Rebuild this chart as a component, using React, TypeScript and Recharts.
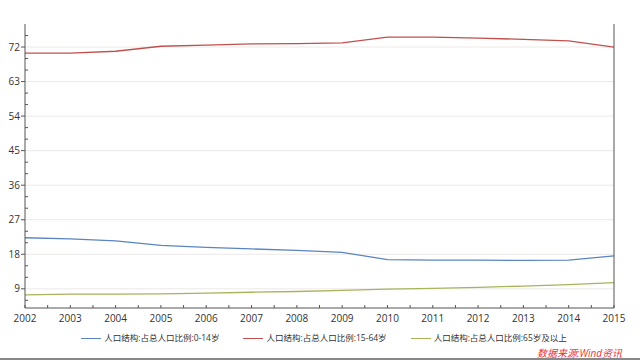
import React from "react";
import { LineChart, Line, XAxis, YAxis, ReferenceLine, Legend } from "recharts";

const YEARS = [2002, 2003, 2004, 2005, 2006, 2007, 2008, 2009, 2010, 2011, 2012, 2013, 2014, 2015];
const AGE_0_14 = [22.3, 22.0, 21.5, 20.3, 19.8, 19.4, 19.0, 18.5, 16.6, 16.5, 16.5, 16.4, 16.5, 17.6];
const AGE_15_64 = [70.4, 70.4, 70.9, 72.2, 72.5, 72.8, 72.9, 73.1, 74.6, 74.6, 74.3, 74.0, 73.6, 72.0];
const AGE_65_UP = [7.4, 7.6, 7.6, 7.7, 7.9, 8.1, 8.3, 8.6, 8.9, 9.1, 9.4, 9.7, 10.1, 10.6];

const SERIES = [
  { key: "a", name: "人口结构:占总人口比例:0-14岁", color: "#5a85c2" },
  { key: "b", name: "人口结构:占总人口比例:15-64岁", color: "#c0504d" },
  { key: "c", name: "人口结构:占总人口比例:65岁及以上", color: "#a9b35c" },
];

const Y_TICKS = [6, 9, 12, 15, 18, 21, 24, 27, 30, 33, 36, 39, 42, 45, 48, 51, 54, 57, 60, 63, 66, 69, 72, 75];
const Y_MAJOR = [9, 18, 27, 36, 45, 54, 63, 72];
const X_TICKS = [2002, 2002.5, 2003, 2003.5, 2004, 2004.5, 2005, 2005.5, 2006, 2006.5, 2007, 2007.5, 2008, 2008.5,
  2009, 2009.5, 2010, 2010.5, 2011, 2011.5, 2012, 2012.5, 2013, 2013.5, 2014, 2014.5, 2015];

const data = YEARS.map((y, i) => ({ year: y, a: AGE_0_14[i], b: AGE_15_64[i], c: AGE_65_UP[i] }));

const AXIS = "#555";
const FONT = "'Open Sans','Noto Sans CJK SC',sans-serif";

// y tick: major ticks outward with label, minor ticks inward
function YTick(props: any) {
  const { x, y, payload, side } = props;
  const v = payload.value;
  const major = Y_MAJOR.includes(v);
  const s = side === "left" ? -1 : 1;
  if (major) {
    return (
      <g>
        <line x1={x} x2={x + s * 4} y1={y} y2={y} stroke={AXIS} />
        <text x={x + s * 5} y={y} dy={3.5} textAnchor={side === "left" ? "end" : "start"}
          fontSize={10} fill="#333" fontFamily={FONT}>{v}</text>
      </g>
    );
  }
  return <line x1={x} x2={x - s * 3} y1={y} y2={y} stroke={AXIS} />;
}

function XTick(props: any) {
  const { x, y, payload } = props;
  const v = payload.value;
  const major = Number.isInteger(v);
  return (
    <g>
      <line x1={x} x2={x} y1={y} y2={y - 3} stroke={AXIS} />
      {major && (
        <text x={x} y={y + 14} textAnchor="middle" fontSize={10} fill="#333" fontFamily={FONT}>{v}</text>
      )}
    </g>
  );
}

function LegendContent() {
  return (
    <div style={{ display: "flex", justifyContent: "center", gap: 24, fontSize: 8.5, lineHeight: "12px", fontFamily: FONT, color: "#333", paddingTop: 2, marginLeft: 8 }}>
      {SERIES.map(s => (
        <div key={s.key} style={{ display: "flex", alignItems: "center" }}>
          <span style={{ display: "inline-block", width: 20, height: 1, background: s.color, marginRight: 3 }} />
          <span>{s.name}</span>
        </div>
      ))}
    </div>
  );
}

export default function App() {
  return (
    <div style={{ position: "absolute", left: 0, top: 0, width: 640, height: 360, background: "#fff" }}>
      <LineChart width={640} height={360} data={data} margin={{ top: 24, right: 0, bottom: 0, left: 0 }}>
        <XAxis dataKey="year" type="number" domain={[2002, 2015]} ticks={X_TICKS} interval={0}
          stroke={AXIS} tickLine={false} tickSize={0} tickMargin={0} height={22} tick={<XTick />} />
        <YAxis yAxisId="l" domain={[4, 78]} ticks={Y_TICKS} interval={0} width={25} stroke={AXIS}
          tickLine={false} tickSize={0} tickMargin={0} tick={<YTick side="left" />} />
        <YAxis yAxisId="r" orientation="right" domain={[4, 78]} ticks={Y_TICKS} interval={0} width={26} stroke={AXIS}
          tickLine={false} tickSize={0} tickMargin={0} tick={<YTick side="right" />} />
        {Y_MAJOR.map(v => (
          <ReferenceLine key={v} yAxisId="l" y={v} stroke="#eee8e8" strokeWidth={1} />
        ))}
        {SERIES.map(s => (
          <Line key={s.key} yAxisId="l" type="linear" dataKey={s.key} name={s.name} stroke={s.color}
            strokeWidth={1.3} dot={false} isAnimationActive={false} />
        ))}
        <Legend verticalAlign="bottom" height={30} content={<LegendContent />} />
      </LineChart>
      <div style={{ position: "absolute", right: 18, top: 345, fontSize: 10, fontStyle: "italic", color: "#e8323c", fontFamily: FONT }}>
        数据来源:Wind资讯
      </div>
      <div style={{ position: "absolute", left: 0, top: 358, width: 640, height: 2, background: "#888" }} />
    </div>
  );
}
